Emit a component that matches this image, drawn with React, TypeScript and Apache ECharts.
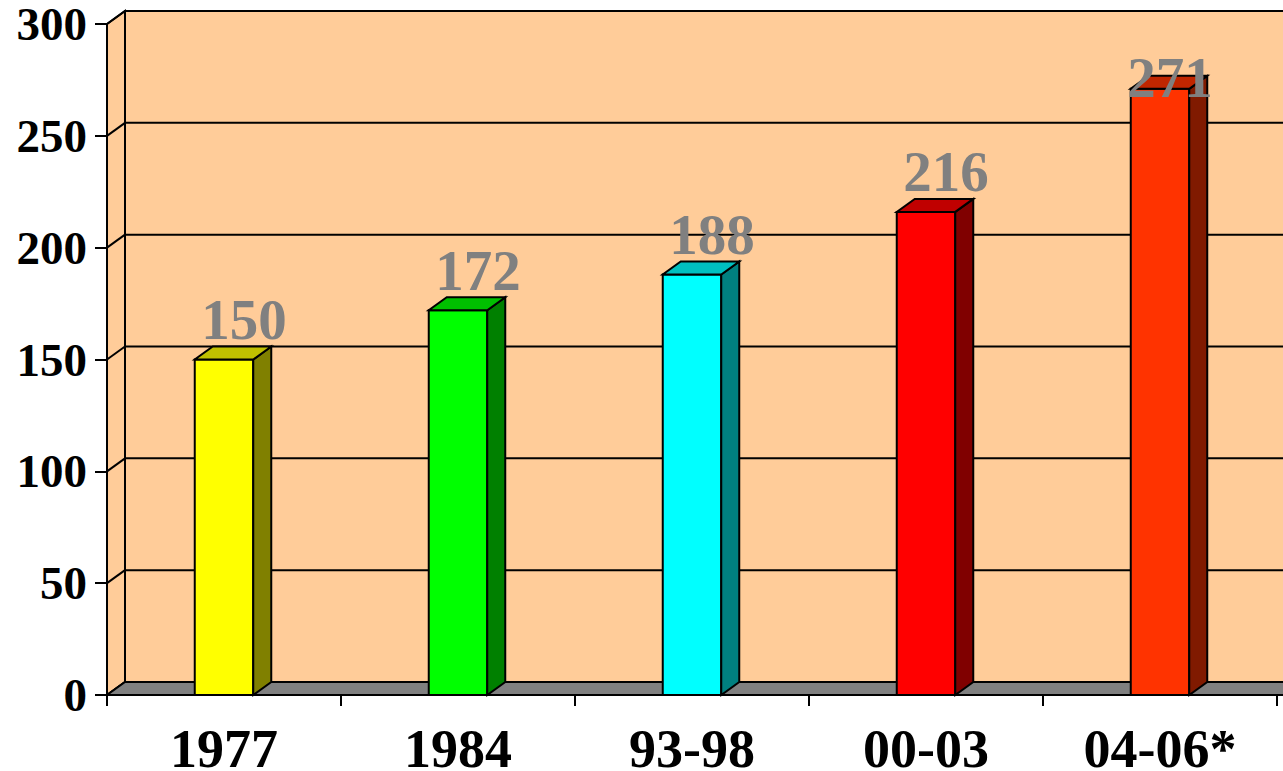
import React, { useEffect, useRef } from "react";
import * as echarts from "echarts";

const categories = ["1977", "1984", "93-98", "00-03", "04-06*"];
const values = [150, 172, 188, 216, 271];
const frontColors = ["#FFFF00", "#00FF00", "#00FFFF", "#FF0000", "#FF3300"];
const sideColors = ["#808000", "#008000", "#008080", "#800000", "#801A00"];
const topColors = ["#C0C000", "#00C000", "#00C0C0", "#C00000", "#C02600"];
const yTicks = [0, 50, 100, 150, 200, 250, 300];

const DX = 18;
const DY = 13;
const FONT = '"Liberation Serif", "Times New Roman", serif';

export default function App() {
  const ref = useRef<HTMLDivElement>(null);
  useEffect(() => {
    if (!ref.current) return;
    const chart = echarts.init(ref.current, undefined, { renderer: "svg" });
    const stroke = { stroke: "#000", lineWidth: 2 };

    const wallRender = (params: any, api: any) => {
      const cs = params.coordSys;
      const left = cs.x;
      const right = cs.x + cs.width + 40;
      const top = api.coord([0, 300])[1];
      const bottom = api.coord([0, 0])[1];
      const children: any[] = [];
      children.push({
        type: "rect",
        shape: { x: left + DX, y: top - DY, width: right - left, height: bottom - top },
        style: { fill: "#FFCC99", ...stroke },
      });
      children.push({
        type: "polygon",
        shape: {
          points: [
            [left, top],
            [left + DX, top - DY],
            [left + DX, bottom - DY],
            [left, bottom],
          ],
        },
        style: { fill: "#FFCC99", ...stroke },
      });
      yTicks.forEach((t) => {
        const y = api.coord([0, t])[1];
        children.push({
          type: "line",
          shape: { x1: left, y1: y, x2: left + DX, y2: y - DY },
          style: { ...stroke },
        });
        if (t > 0) {
          children.push({
            type: "line",
            shape: { x1: left + DX, y1: y - DY, x2: right + DX, y2: y - DY },
            style: { ...stroke },
          });
        }
      });
      children.push({
        type: "polygon",
        shape: {
          points: [
            [left, bottom],
            [left + DX, bottom - DY],
            [right + DX, bottom - DY],
            [right, bottom],
          ],
        },
        style: { fill: "#808080", ...stroke },
      });
      return { type: "group", children };
    };

    const barRender = (params: any, api: any) => {
      const idx = api.value(0);
      const v = api.value(1);
      const topPt = api.coord([idx, v]);
      const basePt = api.coord([idx, 0]);
      const band = api.size([1, 0])[0];
      const w = band * 0.25;
      const x0 = topPt[0] - w / 2;
      const x1 = topPt[0] + w / 2;
      const yT = topPt[1];
      const yB = basePt[1];
      const i = params.dataIndex;
      const gridTop = params.coordSys.y;
      let labelY = yT - DY - 27;
      let labelX = topPt[0] + 20;
      if (labelY - 20 < gridTop + 10) {
        labelY = yT - DY + 2;
        labelX = topPt[0] + 10;
      }
      return {
        type: "group",
        children: [
          {
            type: "polygon",
            shape: { points: [[x0, yB], [x0, yT], [x1, yT], [x1, yB]] },
            style: { fill: frontColors[i], ...stroke },
          },
          {
            type: "polygon",
            shape: { points: [[x1, yB], [x1, yT], [x1 + DX, yT - DY], [x1 + DX, yB - DY]] },
            style: { fill: sideColors[i], ...stroke },
          },
          {
            type: "polygon",
            shape: { points: [[x0, yT], [x1, yT], [x1 + DX, yT - DY], [x0 + DX, yT - DY]] },
            style: { fill: topColors[i], ...stroke },
          },
          {
            type: "text",
            z2: 10,
            style: {
              text: String(v),
              x: labelX,
              y: labelY,
              align: "center",
              verticalAlign: "middle",
              fill: "#808080",
              font: `bold 57px ${FONT}`,
            },
          },
        ],
      };
    };

    chart.setOption({
      animation: false,
      grid: {
        left: 107,
        right: 6,
        top: 24,
        bottom: 76,
        containLabel: false,
        outerBoundsMode: "none",
      },
      xAxis: {
        type: "category",
        data: categories,
        z: 10,
        axisLine: { show: true, lineStyle: { color: "#000", width: 2 } },
        axisTick: { show: true, length: 11, lineStyle: { color: "#000", width: 2 } },
        axisLabel: {
          margin: 32,
          color: "#000",
          fontFamily: FONT,
          fontWeight: "bold",
          fontSize: 54,
          lineHeight: 44,
        },
        splitLine: { show: false },
      },
      yAxis: {
        type: "value",
        min: 0,
        max: 300,
        interval: 50,
        z: 10,
        axisLine: { show: true, lineStyle: { color: "#000", width: 2 } },
        axisTick: { show: true, length: 12, lineStyle: { color: "#000", width: 2 } },
        axisLabel: {
          margin: 20,
          color: "#000",
          fontFamily: FONT,
          fontWeight: "bold",
          fontSize: 47,
          lineHeight: 40,
        },
        splitLine: { show: false },
      },
      series: [
        {
          type: "custom",
          renderItem: wallRender,
          data: [[0, 0]],
          silent: true,
          clip: false,
        },
        {
          type: "custom",
          renderItem: barRender,
          data: values.map((v, i) => [i, v]),
          clip: false,
        },
      ],
    });
    return () => chart.dispose();
  }, []);
  return (
    <div
      ref={ref}
      style={{ position: "fixed", left: 0, top: 0, width: 1283, height: 771, background: "#fff" }}
    />
  );
}
